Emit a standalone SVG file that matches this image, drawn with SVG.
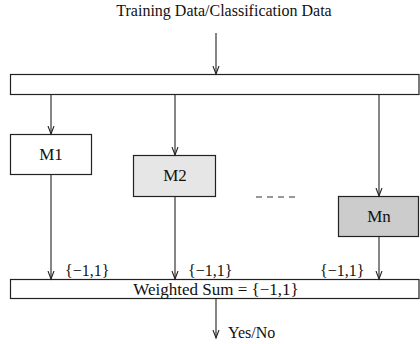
<svg xmlns="http://www.w3.org/2000/svg" width="420" height="344" viewBox="0 0 420 344">
<style>
text{font-family:'Liberation Serif','Times New Roman','DejaVu Serif',serif;font-size:16px;fill:#111}
.lg{font-size:17px}
.box{stroke:#222;stroke-width:1.2}
.c{stroke:#222;stroke-width:1.1;fill:none}
</style>
<defs>
<marker id="ah" markerWidth="10" markerHeight="10" refX="8" refY="5" orient="auto" markerUnits="userSpaceOnUse">
<polyline points="0,2 8,5 0,8" fill="none" stroke="#222" stroke-width="1.1"/>
</marker>
</defs>
<rect width="420" height="344" fill="#fff"/>
<g font-family="Liberation Serif, Times New Roman, serif">
<text x="224" y="16" text-anchor="middle">Training Data/Classification Data</text>
<g id="input-bar"><rect class="box" x="10.5" y="74.5" width="408.5" height="20" fill="#fff"/></g>
<g id="M1"><rect class="box" x="10.5" y="134.5" width="81" height="40" fill="#fff"/><text class="lg" x="51" y="160" text-anchor="middle">M1</text></g>
<g id="M2"><rect class="box" x="133.5" y="155.5" width="82" height="41" fill="#e6e6e6"/><text class="lg" x="175" y="181" text-anchor="middle">M2</text></g>
<g id="Mn"><rect class="box" x="338.5" y="196.5" width="80" height="40" fill="#cccccc"/><text class="lg" x="379" y="222" text-anchor="middle">Mn</text></g>
<g id="sum-bar"><rect class="box" x="10.5" y="279.5" width="408.5" height="19" fill="#fff"/><text class="lg" x="216" y="295" text-anchor="middle">Weighted Sum = {−1,1}</text></g>
<g id="connectors">
<line class="c" x1="216" y1="33" x2="216" y2="74" marker-end="url(#ah)"/>
<line class="c" x1="51" y1="95" x2="51" y2="134" marker-end="url(#ah)"/>
<line class="c" x1="175" y1="95" x2="175" y2="155" marker-end="url(#ah)"/>
<line class="c" x1="379" y1="95" x2="379" y2="196" marker-end="url(#ah)"/>
<line class="c" x1="51" y1="175" x2="51" y2="279" marker-end="url(#ah)"/>
<line class="c" x1="175" y1="197" x2="175" y2="279" marker-end="url(#ah)"/>
<line class="c" x1="379" y1="237" x2="379" y2="279" marker-end="url(#ah)"/>
<line class="c" x1="216" y1="299" x2="216" y2="338" marker-end="url(#ah)"/>
<line x1="256" y1="197" x2="296" y2="197" stroke="#777" stroke-width="1.3" stroke-dasharray="6,5"/>
</g>
<text x="65" y="276">{−1,1}</text>
<text x="188" y="276">{−1,1}</text>
<text x="320" y="276">{−1,1}</text>
<text x="228" y="338">Yes/No</text>
</g>
</svg>
